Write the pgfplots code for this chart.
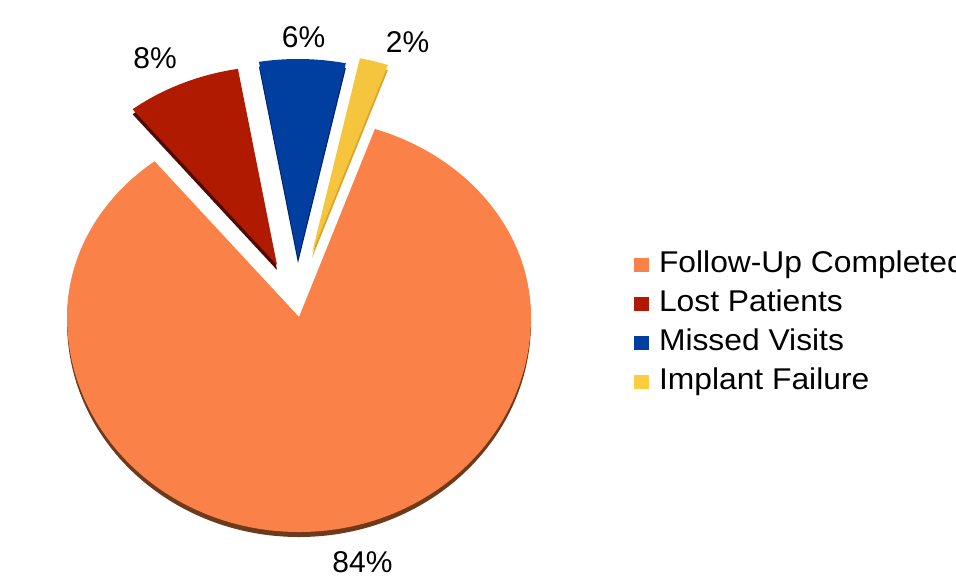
\documentclass[border=0pt]{standalone}
\usepackage{fontspec}
\setmainfont{Liberation Sans}
\usepackage{pgfplots}
\usepackage{pgfplotstable}
\pgfplotsset{compat=1.18}
\definecolor{cOrange}{RGB}{250,130,72}
\definecolor{cRed}{RGB}{176,26,0}
\definecolor{cBlue}{RGB}{0,62,160}
\definecolor{cYellow}{RGB}{246,197,62}
\definecolor{lYellow}{RGB}{255,204,64}
\definecolor{sOrange}{RGB}{110,58,28}
\definecolor{sRed}{RGB}{80,10,0}
\definecolor{sBlue}{RGB}{0,35,100}
\definecolor{sYellow}{RGB}{215,165,50}

% value (percent), slice vertex x, y (pixel-like axis units)
\pgfplotstableread{
value vx vy
84 299 258
8 277 310
6 298 317
2 312 322
}\piedata

\newcommand\getrow[1]{%
 \pgfplotstablegetelem{#1}{value}\of\piedata\edef\val{\pgfplotsretval}%
 \pgfplotstablegetelem{#1}{vx}\of\piedata\edef\cx{\pgfplotsretval}%
 \pgfplotstablegetelem{#1}{vy}\of\piedata\edef\cy{\pgfplotsretval}%
 \pgfmathsetmacro\cys{\cy-5}}
\newcommand\wide[1]{\scalebox{1.06}[1]{#1}}

\begin{document}
\begin{tikzpicture}
\path[use as bounding box, clip] (0,0) rectangle (478pt,287.5pt);
\begin{axis}[
 at={(0pt,0pt)}, anchor=south west,
 scale only axis, width=478pt, height=287.5pt,
 xmin=0, xmax=956, ymin=0, ymax=575,
 hide axis, clip=false,
 legend image code/.code={\fill[#1, draw=none] (0pt,0pt) rectangle (7.5pt,7pt);},
 legend style={at={(0.6632,0.5652)}, anchor=north west, draw=none, fill=none,
   inner sep=0pt, outer sep=0pt, column sep=5pt, row sep=5.5pt,
   font=\fontsize{15}{18}\selectfont,
   nodes={anchor=base west, inner sep=0pt, outer sep=0pt, text height=11pt, text depth=3pt}},
]
\addlegendimage{fill=cOrange}\addlegendentry{\wide{Follow-Up Completed}}
\addlegendimage{fill=cRed}\addlegendentry{\wide{Lost Patients}}
\addlegendimage{fill=cBlue}\addlegendentry{\wide{Missed Visits}}
\addlegendimage{fill=lYellow}\addlegendentry{\wide{Implant Failure}}

\pgfplotsextra{
 \pgfmathsetmacro\aS{70.9}%
 % first slice (orange), spans both halves of the tilted pie
 \getrow{0}%
 \pgfmathsetmacro\aE{\aS-3.6*\val}%
 \fill[sOrange] (axis cs:\cx,\cys) -- ++(\aE:116pt and 99.5pt)
   arc[start angle=\aE, end angle=-180, x radius=116pt, y radius=99.5pt]
   arc[start angle=-180, end angle=0, x radius=116pt, y radius=107.5pt]
   arc[start angle=0, end angle=\aS, x radius=116pt, y radius=99.5pt] -- cycle;
 \fill[cOrange] (axis cs:\cx,\cy) -- ++(\aE:116pt and 99.5pt)
   arc[start angle=\aE, end angle=-180, x radius=116pt, y radius=99.5pt]
   arc[start angle=-180, end angle=0, x radius=116pt, y radius=107.5pt]
   arc[start angle=0, end angle=\aS, x radius=116pt, y radius=99.5pt] -- cycle;
 % exploded slices
 \getrow{1}%
 \pgfmathsetmacro\aS{\aE}\pgfmathsetmacro\aE{\aS-3.6*\val}%
 \fill[sRed] (axis cs:\cx,\cys) -- ++(\aE:116pt and 99.5pt)
   arc[start angle=\aE, end angle=\aS, x radius=116pt, y radius=99.5pt] -- cycle;
 \fill[cRed] (axis cs:\cx,\cy) -- ++(\aE:116pt and 99.5pt)
   arc[start angle=\aE, end angle=\aS, x radius=116pt, y radius=99.5pt] -- cycle;
 \getrow{2}%
 \pgfmathsetmacro\aS{\aE}\pgfmathsetmacro\aE{\aS-3.6*\val}%
 \fill[sBlue] (axis cs:\cx,\cys) -- ++(\aE:116pt and 99.5pt)
   arc[start angle=\aE, end angle=\aS, x radius=116pt, y radius=99.5pt] -- cycle;
 \fill[cBlue] (axis cs:\cx,\cy) -- ++(\aE:116pt and 99.5pt)
   arc[start angle=\aE, end angle=\aS, x radius=116pt, y radius=99.5pt] -- cycle;
 \getrow{3}%
 \pgfmathsetmacro\aS{\aE}\pgfmathsetmacro\aE{\aS-3.6*\val}%
 \fill[sYellow] (axis cs:\cx,\cys) -- ++(\aE:116pt and 99.5pt)
   arc[start angle=\aE, end angle=\aS, x radius=116pt, y radius=99.5pt] -- cycle;
 \fill[cYellow] (axis cs:\cx,\cy) -- ++(\aE:116pt and 99.5pt)
   arc[start angle=\aE, end angle=\aS, x radius=116pt, y radius=99.5pt] -- cycle;
}
\node[anchor=base, inner sep=0pt, font=\fontsize{15}{18}\selectfont] at (axis cs:155,507) {8\%};
\node[anchor=base, inner sep=0pt, font=\fontsize{15}{18}\selectfont] at (axis cs:303.5,527) {6\%};
\node[anchor=base, inner sep=0pt, font=\fontsize{15}{18}\selectfont] at (axis cs:407.5,523) {2\%};
\node[anchor=base, inner sep=0pt, font=\fontsize{15}{18}\selectfont] at (axis cs:362.5,3) {84\%};
\end{axis}
\end{tikzpicture}
\end{document}
